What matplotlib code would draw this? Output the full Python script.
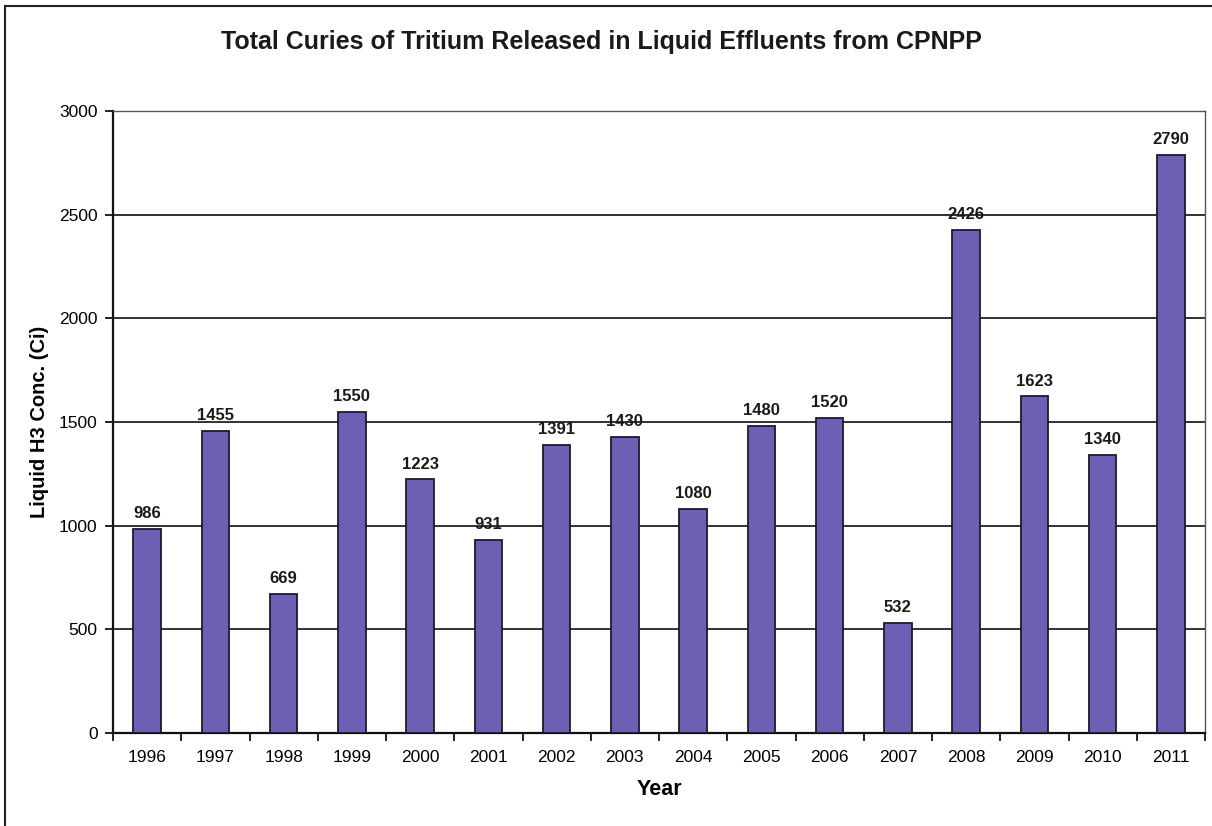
import matplotlib
matplotlib.use("Agg")
import matplotlib.pyplot as plt
from matplotlib.patches import Rectangle
import numpy as np

years = ["1996", "1997", "1998", "1999", "2000", "2001", "2002", "2003",
         "2004", "2005", "2006", "2007", "2008", "2009", "2010", "2011"]
curies = [986, 1455, 669, 1550, 1223, 931, 1391, 1430,
          1080, 1480, 1520, 532, 2426, 1623, 1340, 2790]
yticks = [0, 500, 1000, 1500, 2000, 2500, 3000]

plt.rcParams['font.family'] = ['Liberation Sans', 'DejaVu Sans']

fig = plt.figure(figsize=(12.12, 8.26), dpi=100)
fig.patch.set_facecolor('white')
# outer chart border (left & top visible)
fig.add_artist(Rectangle((5 / 1212, -0.05), 1.1, 1 - 6 / 826 + 0.05,
                         transform=fig.transFigure, fill=False,
                         edgecolor='#222222', linewidth=1.5))

ax = fig.add_axes([113 / 1212, 1 - 733 / 826, (1205 - 113) / 1212, (733 - 111) / 826])
x = np.arange(len(years))
ax.bar(x, curies, width=0.4, color='#6c60b4', edgecolor='#1a1a2a', linewidth=1.3, zorder=3)
for xi, v in zip(x, curies):
    ax.text(xi, v + 38, str(v), ha='center', va='bottom', fontsize=12,
            fontweight='bold', color='#1a1a1a', zorder=4)

ax.set_xlim(-0.5, len(years) - 0.5)
ax.set_ylim(0, 3000)
ax.set_yticks(yticks)
ax.set_yticklabels([str(t) for t in yticks], fontsize=12.5)
ax.set_xticks(x)
ax.set_xticklabels(years, fontsize=12.5)
ax.set_xticks(np.arange(len(years) + 1) - 0.5, minor=True)
ax.tick_params(axis='x', which='major', length=0, pad=12)
ax.tick_params(axis='x', which='minor', length=6, width=1.3, direction='out', color='#111111')
ax.tick_params(axis='y', length=6, width=1.3, direction='out', color='#111111', pad=5)

ax.yaxis.grid(True, color='#222222', linewidth=1.3, zorder=0)
ax.set_axisbelow(True)
for s in ['left', 'bottom']:
    ax.spines[s].set_color('#111111')
    ax.spines[s].set_linewidth(1.6)
for s in ['top', 'right']:
    ax.spines[s].set_color('#555555')
    ax.spines[s].set_linewidth(1.0)

ax.set_xlabel('Year', fontsize=15.5, fontweight='bold', labelpad=10)
ax.set_ylabel('Liquid H3 Conc. (Ci)', fontsize=14.5, fontweight='bold', labelpad=7)
fig.text(601 / 1212, 1 - 42 / 826, 'Total Curies of Tritium Released in Liquid Effluents from CPNPP',
         ha='center', va='center', fontsize=18, fontweight='bold', color='#1a1a1a')

fig.savefig('out.png', dpi=100)
